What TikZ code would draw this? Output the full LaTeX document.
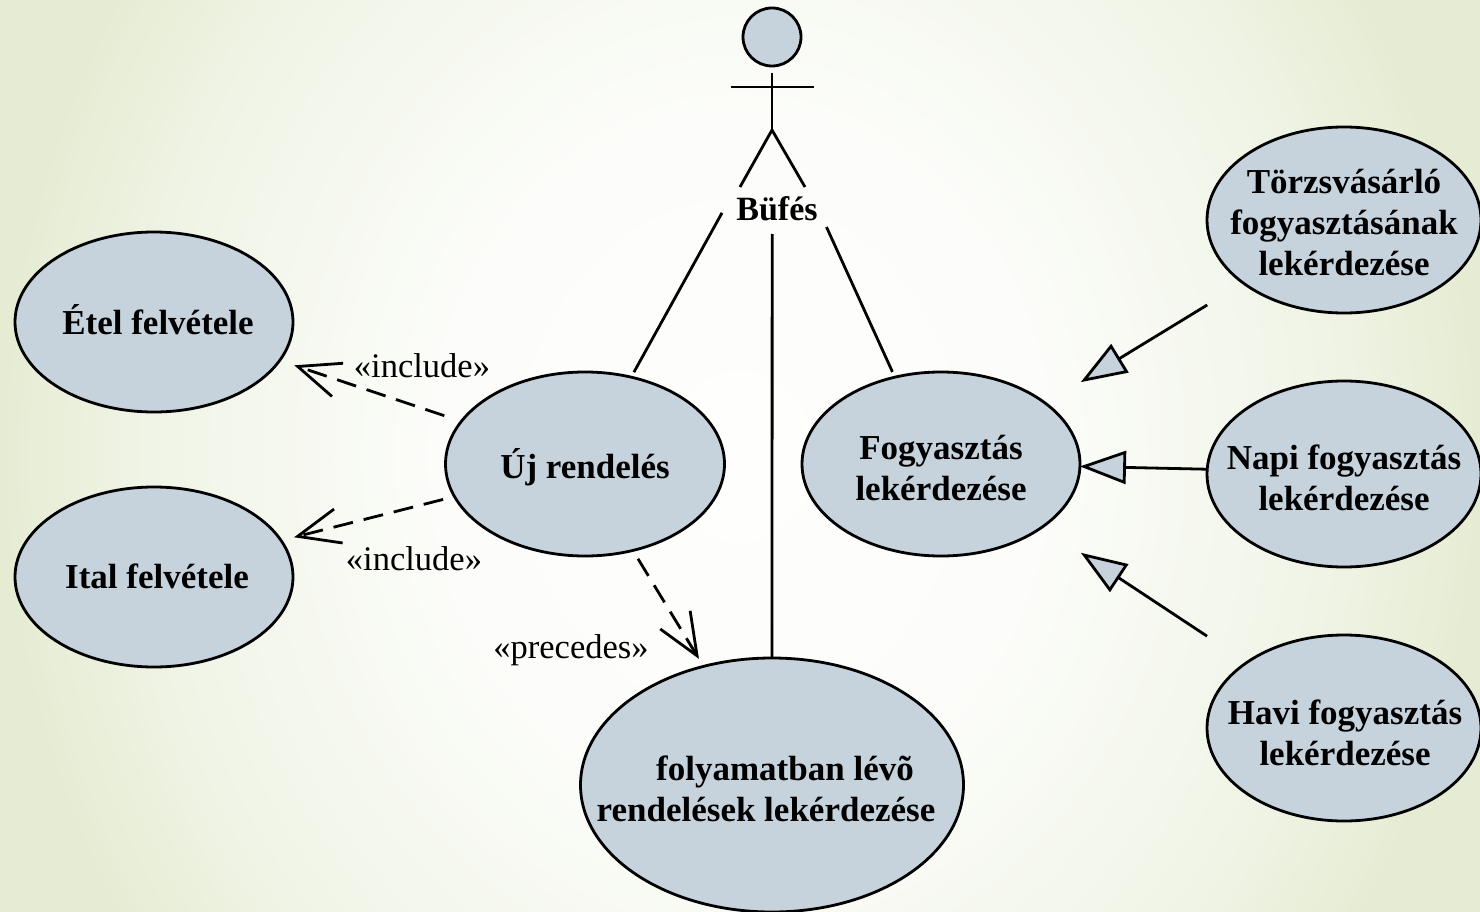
\documentclass[tikz,border=0pt]{standalone}
\usepackage{xcolor}
\usepackage{fontspec}
\setmainfont{Liberation Serif}
\usepackage{tikz}
\usetikzlibrary{shapes.geometric}
\usetikzlibrary{arrows.meta}
\definecolor{slideedge}{HTML}{E6ECD3}
\definecolor{slideouter}{HTML}{F0F4E6}
\definecolor{slideinner}{HTML}{FCFDFA}
\definecolor{slidemid}{HTML}{FEFEFD}
\definecolor{ucfill}{HTML}{C6D3DC}
\pgfdeclareradialshading{slideback}{\pgfpointorigin}{color(0bp)=(slidemid); color(10bp)=(slideinner); color(20bp)=(slideouter); color(25bp)=(slideedge); color(50bp)=(slideedge)}
\newcommand{\uctext}[3][0pt]{\makebox[0pt]{\hspace*{#1}\raisebox{#2}[0pt][0pt]{\begin{tabular}{@{}c@{}}#3\end{tabular}}}}
\tikzset{
  usecase/.style={ellipse, draw, fill=ucfill, line width=2.8pt, inner sep=0pt, outer sep=0pt, font=\fontsize{35}{41}\selectfont\bfseries},
  stereo/.style={inner sep=0pt, font=\fontsize{34.5}{38}\selectfont},
  assoc/.style={line width=2.8pt},
  depend/.style={line width=2.8pt, dash pattern=on 20pt off 11pt, -{Straight Barb[length=42pt,width=35pt]}},
  general/.style={line width=2.8pt, -{Triangle[open,length=46pt,width=33pt,fill=ucfill]}}
}

\begin{document}
\begin{tikzpicture}[x=1pt,y=-1pt]
  \useasboundingbox (0,0) rectangle (1480,912);
  \begin{scope}
    \clip (0,0) rectangle (1480,912);
    \shade[shading=slideback] (0,-404) rectangle (1480,1316);
  \end{scope}

  % actor
  \node[draw, circle, fill=ucfill, line width=2.8pt, minimum size=58pt, inner sep=0pt] (head) at (772,37) {};
  \coordinate (neck) at (772,73);
  \coordinate (hip) at (772,130);
  \coordinate (armleft) at (731,87);
  \coordinate (armright) at (814,87);
  \coordinate (footleft) at (740,187);
  \coordinate (footright) at (805,187);
  \draw[assoc] (neck) -- (hip);
  \draw[assoc] (armleft) -- (armright);
  \draw[assoc] (footleft) -- (hip) -- (footright);
  \node[inner sep=0pt, outer sep=0pt, minimum width=110pt, minimum height=36pt, font=\fontsize{34}{40}\selectfont\bfseries] (bufes) at (777,209) {Büfés};

  % use cases
  \node[usecase, minimum width=278pt, minimum height=180pt] (etel) at (154,322) {\uctext[8pt]{-10pt}{Étel felvétele}};
  \node[usecase, minimum width=278pt, minimum height=180pt] (ital) at (154,577) {\uctext[6pt]{-10pt}{Ital felvétele}};
  \node[usecase, minimum width=279pt, minimum height=184pt] (ujrend) at (585,464) {\uctext{-12pt}{Új rendelés}};
  \node[usecase, minimum width=278pt, minimum height=184pt] (fogyaszt) at (941,464) {\uctext{-14pt}{Fogyasztás\\lekérdezése}};
  \node[usecase, minimum width=383pt, minimum height=254pt] (folyamat) at (772,785) {\uctext[-12pt]{-14pt}{\hspace*{38pt}folyamatban lévõ\\rendelések lekérdezése}};
  \node[usecase, minimum width=274pt, minimum height=186pt] (torzs) at (1344,220) {\uctext{-13pt}{Törzsvásárló\\fogyasztásának\\lekérdezése}};
  \node[usecase, minimum width=274pt, minimum height=186pt] (napi) at (1344,474) {\uctext{-14pt}{Napi fogyasztás\\lekérdezése}};
  \node[usecase, minimum width=274pt, minimum height=186pt] (havi) at (1344,728) {\uctext[2pt]{-15pt}{Havi fogyasztás\\lekérdezése}};

  % stereotypes
  \node[stereo] (incetel) at (422,366) {«include»};
  \node[stereo] (incital) at (414,559) {«include»};
  \node[stereo] (prec) at (571,650) {«precedes»};

  % actor links
  \draw[assoc, shorten >=5.7pt] (bufes.184.2) -- (ujrend.62.5);
  \draw[assoc, shorten >=5.8pt] (bufes.-20.56) -- (fogyaszt.118.3);
  \draw[assoc, shorten <=7pt] (bufes.-105.5) -- (folyamat.90);

  % dependencies
  \draw[depend, shorten <=18pt, shorten >=15.4pt] (ujrend.161.2) -- (etel.-17);
  \draw[depend, shorten <=11.8pt, shorten >=13.4pt] (ujrend.194.8) -- (ital.16);
  \draw[depend, shorten <=9.8pt, shorten >=8.8pt] (ujrend.-61) -- (folyamat.120.2);

  % generalizations
  \draw[general, shorten <=42.2pt, shorten >=41pt] (torzs.-148.7) -- (fogyaszt.30.7);
  \draw[general] (napi.178.3) -- (fogyaszt.-1.6);
  \draw[general, shorten <=47.7pt, shorten >=46.5pt] (havi.146.6) -- (fogyaszt.-32.8);
\end{tikzpicture}
\end{document}
